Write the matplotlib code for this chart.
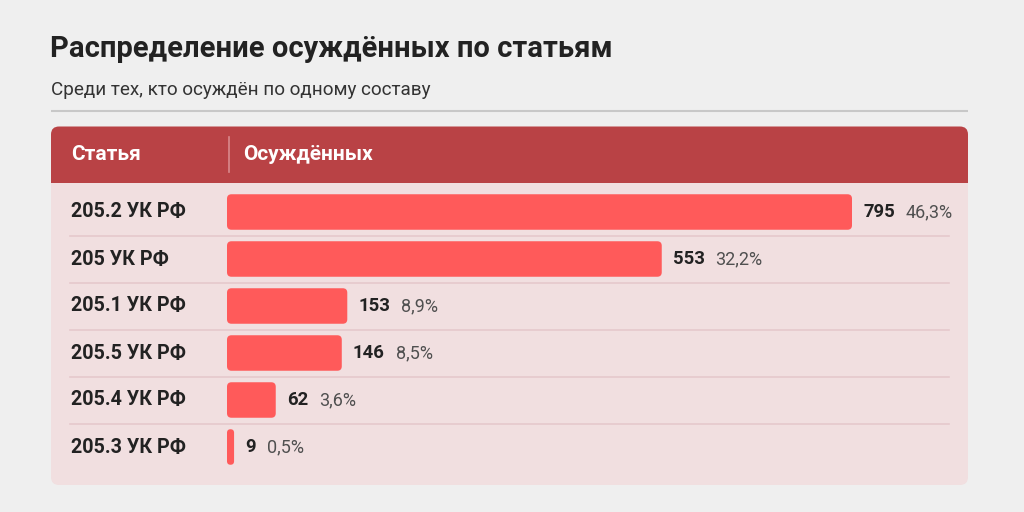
import matplotlib
matplotlib.use("Agg")
import matplotlib.pyplot as plt
from matplotlib.patches import FancyBboxPatch

# data
articles = ["205.2 УК РФ", "205 УК РФ", "205.1 УК РФ", "205.5 УК РФ", "205.4 УК РФ", "205.3 УК РФ"]
counts = [795, 553, 153, 146, 62, 9]
shares = ["46,3%", "32,2%", "8,9%", "8,5%", "3,6%", "0,5%"]

title = "Распределение осуждённых по статьям"
subtitle = "Среди тех, кто осуждён по одному составу"
col_names = ["Статья", "Осуждённых"]

BG = "#efefef"
HEAD = "#b94245"
BODY = "#f1dfe0"
BAR = "#ff5a5a"
SEP = "#e6c9cc"
DARK = "#222222"

plt.rcParams["font.family"] = ["Roboto", "DejaVu Sans"]

W, H = 1024, 512
fig = plt.figure(figsize=(W / 100, H / 100), dpi=100, facecolor=BG)

# background axes in pixel coordinates
bg = fig.add_axes([0, 0, 1, 1])
bg.set_xlim(0, W)
bg.set_ylim(H, 0)
bg.axis("off")

bg.text(50, 49, title, fontsize=21, fontweight="bold", color=DARK,
        va="center", ha="left")
bg.text(51, 90, subtitle, fontsize=13.6, color="#333333", va="center", ha="left")
bg.plot([51, 968], [111, 111], color="#c8c8c8", lw=1.5, solid_capstyle="butt")

# panel body and header
bg.add_patch(FancyBboxPatch((51, 140), 917, 345, boxstyle="round,pad=0,rounding_size=8",
                            fc=BODY, ec="none"))
bg.add_patch(FancyBboxPatch((51, 126.5), 917, 56, boxstyle="round,pad=0,rounding_size=8",
                            fc=HEAD, ec="none"))
bg.add_patch(plt.Rectangle((51, 165), 917, 17.5, fc=HEAD, ec="none"))
bg.plot([229, 229], [137, 172], color="#d98a8d", lw=1.2)
bg.text(71, 155, col_names[0], fontsize=15, fontweight="bold", color="white", va="center")
bg.text(243, 155, col_names[1], fontsize=15, fontweight="bold", color="white", va="center")

# bar axes: x 227..852 px for 0..795, rows 47 px apart starting at y=188.5
row_h = 47
top = 188.5
n = len(counts)
ax = fig.add_axes([227 / W, 1 - (top + n * row_h) / H, 625 / W, n * row_h / H])
ax.set_xlim(0, counts[0])
ax.set_ylim(n - 0.5, -0.5)
ax.axis("off")
ax.patch.set_alpha(0)

px_x = counts[0] / 625.0
px_y = 1.0 / row_h
bar_h = 35.5 * px_y

for i in range(n - 1):
    y = top + (i + 1) * row_h
    bg.plot([70, 949], [y, y], color=SEP, lw=1.2)

for i, (lab, c, s) in enumerate(zip(articles, counts, shares)):
    wpx = c / px_x
    r = min(4.5, wpx / 2)
    ax.add_patch(FancyBboxPatch((0, i - bar_h / 2), c, bar_h,
                                boxstyle="round,pad=0,rounding_size=%f" % (r * px_x),
                                mutation_aspect=px_y / px_x, fc=BAR, ec="none"))
    bg.text(71, top + row_h * (i + 0.5), lab, fontsize=14.2, fontweight="bold",
            color=DARK, va="center", ha="left")
    num = ax.annotate(str(c), xy=(c, i), xytext=(11, 0), textcoords="offset pixels",
                      fontsize=13.3, fontweight="bold", color=DARK, va="center", ha="left")
    ax.annotate(s, xy=(1, 0.5), xycoords=num, xytext=(11, 0), textcoords="offset pixels",
                fontsize=13, fontweight="normal", color="#505050", va="center", ha="left")

fig.savefig("out.png", dpi=100, facecolor=BG)
